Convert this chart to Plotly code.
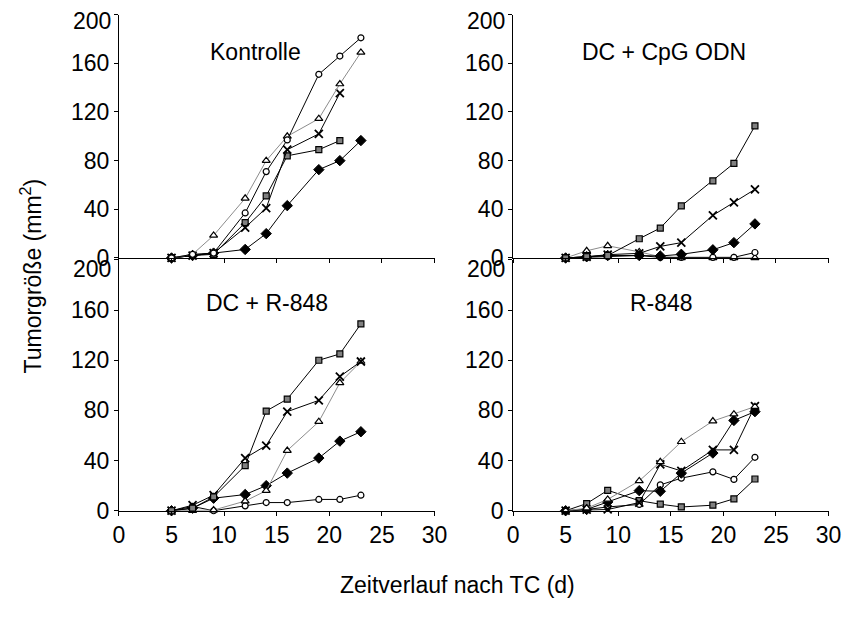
import plotly.graph_objects as go

days = [5, 7, 9, 12, 14, 16, 19, 21, 23]

# Kontrolle
k_circle = [0, 3, 4, 37, 71, 97, 151, 166, 181]
k_triangle = [0, 3, 18.5, 49, 80, 100, 114.5, 143, 169]
k_cross = [0, 2, 4, 25, 41, 89, 102, 135.5, None]
k_square = [0, 2, 3, 29, 51, 84, 89, 96.5, None]
k_diamond = [0, 2, 4, 7, 20, 43, 72.6, 80, 96.5]

# DC + CpG ODN
c_square = [0, 1, 2, 15.8, 24.6, 42.8, 63.4, 77.8, 108.6]
c_cross = [0, 1, 2.7, 3.8, 9.5, 12.6, 35, 45.7, 56.4]
c_diamond = [0, 1, 2, 2, 1.6, 3, 6.7, 12.6, 28]
c_circle = [0, 0.5, 1, 2, 0.5, 0.5, 0.5, 0.5, 4.5]
c_triangle = [0, 5.9, 10, 5, 1, 0, 0, 0, 0]

# DC + R-848
r_square = [0, 2, 11, 36, 79.5, 89, 120, 125, 149]
r_cross = [0, 4.4, 12.4, 42, 52, 79, 88, 107, 119]
r_triangle = [0, 0, 0.5, 7.7, 16, 48, 71, 102, 119]
r_diamond = [0, 2, 10, 12.9, 20, 30, 42, 55.5, 63]
r_circle = [0, 3.4, 0, 3.9, 6.5, 6.5, 9, 9, 12.4]

# R-848
s_triangle = [0, 2, 9, 23.8, 39, 55, 71.5, 77, 83]
s_cross = [0, 0.8, 1, 6.5, 37, 31.7, 48.5, 48.5, 83.4]
s_diamond = [0, 1, 7, 16, 15.5, 30, 46, 72, 79]
s_circle = [0, 1, 3, 5, 20.6, 26, 31, 25, 42.6]
s_square = [0, 5.7, 16.3, 8, 5.2, 3, 4.4, 9.5, 25.3]

panel_titles = ["Kontrolle", "DC + CpG ODN", "DC + R-848", "R-848"]
y_ticks = [0, 40, 80, 120, 160, 200]
x_ticks = [0, 5, 10, 15, 20, 25, 30]

FONT = "Liberation Sans, Arial, sans-serif"
FS = 23

styles = {
    "circle": dict(symbol="circle", size=6, color="white", line=dict(color="black", width=1.2)),
    "triangle": dict(symbol="triangle-up", size=7, color="white", line=dict(color="black", width=1.2)),
    "cross": dict(symbol="x-thin", size=8, color="black", line=dict(color="black", width=1.8)),
    "square": dict(symbol="square", size=6, color="#808080", line=dict(color="black", width=1.2)),
    "diamond": dict(symbol="diamond", size=8, color="black", line=dict(color="black", width=1)),
}
line_colors = {"circle": "black", "triangle": "#8c8c8c", "cross": "black",
               "square": "black", "diamond": "black"}

panels = [
    [("diamond", k_diamond), ("square", k_square), ("cross", k_cross), ("triangle", k_triangle), ("circle", k_circle)],
    [("triangle", c_triangle), ("circle", c_circle), ("diamond", c_diamond), ("cross", c_cross), ("square", c_square)],
    [("circle", r_circle), ("diamond", r_diamond), ("triangle", r_triangle), ("cross", r_cross), ("square", r_square)],
    [("square", s_square), ("circle", s_circle), ("diamond", s_diamond), ("cross", s_cross), ("triangle", s_triangle)],
]

fig = go.Figure()
axis_ids = ["", "2", "3", "4"]
for i, series in enumerate(panels):
    for kind, vals in series:
        fig.add_trace(go.Scatter(
            x=days, y=vals, mode="lines+markers",
            line=dict(color=line_colors[kind], width=1),
            marker=styles[kind], cliponaxis=False, showlegend=False,
            xaxis="x" + axis_ids[i], yaxis="y" + axis_ids[i],
        ))

W, H = 853, 618
left_px = (115.5, 438.3)
right_px = (518.6, 841.3)
xdom_left = [left_px[0] / W, left_px[1] / W]
xdom_right = [right_px[0] / W, right_px[1] / W]
ydom_top = [1 - 263.5 / H, 1 - 15 / H]
ydom_bot = [1 - 521.7 / H, 1 - 265.5 / H]

doms = [(xdom_left, ydom_top), (xdom_right, ydom_top), (xdom_left, ydom_bot), (xdom_right, ydom_bot)]
axis_x_px = [left_px[0], right_px[0], left_px[0], right_px[0]]
label_shift = [-6, -6, -9, -9]

layout = dict(
    width=W, height=H, margin=dict(l=0, r=0, t=0, b=0),
    paper_bgcolor="white", plot_bgcolor="white",
    font=dict(family=FONT, size=FS, color="black"),
    showlegend=False,
)
top_label = y_ticks[-1]
for i, (xd, yd) in enumerate(doms):
    xa = "xaxis" + axis_ids[i]
    ya = "yaxis" + axis_ids[i]
    layout[xa] = dict(
        domain=xd, range=[0, 30], tickvals=x_ticks, ticktext=[str(t) for t in x_ticks],
        showticklabels=(i >= 2), showgrid=False, zeroline=False,
        showline=True, linecolor="black", linewidth=1,
        ticks="outside", ticklen=4, tickcolor="black", tickwidth=1,
        anchor="y" + axis_ids[i], fixedrange=True,
        tickfont=dict(size=FS),
    )
    layout[ya] = dict(
        domain=yd, range=[0, 200], tickvals=y_ticks,
        ticktext=[str(t) if t != top_label else "" for t in y_ticks],
        showgrid=False, zeroline=False,
        showline=True, linecolor="black", linewidth=1,
        ticks="outside", ticklen=4, tickcolor="black", tickwidth=1,
        anchor="x" + axis_ids[i], fixedrange=True,
        tickfont=dict(size=FS),
    )
fig.update_layout(**layout)

# top tick label "200" sits slightly below its tick, as in the original
for i in range(4):
    fig.add_annotation(x=(axis_x_px[i] - 6) / W, xref="paper", xanchor="right",
                       y=top_label, yref="y" + axis_ids[i], yanchor="middle", yshift=label_shift[i],
                       text=str(top_label), showarrow=False, font=dict(size=FS, family=FONT))

title_pos = [(255, 53), (673, 53), (267, 310), (670, 310)]
for (px, py), t in zip(title_pos, panel_titles):
    fig.add_annotation(x=px / W, y=1 - py / H, xref="paper", yref="paper",
                       text=t, showarrow=False, font=dict(size=FS, family=FONT),
                       xanchor="center", yanchor="middle")

fig.add_annotation(x=26 / W, y=1 - 282 / H, xref="paper", yref="paper",
                   text="Tumorgröße (mm<sup>2</sup>)", textangle=-90, showarrow=False,
                   font=dict(size=FS, family=FONT), xanchor="center", yanchor="middle")
fig.add_annotation(x=462 / W, y=1 - 598 / H, xref="paper", yref="paper",
                   text="Zeitverlauf nach TC (d)", showarrow=False,
                   font=dict(size=FS, family=FONT), xanchor="center", yanchor="middle")

fig.write_html("out.html")
